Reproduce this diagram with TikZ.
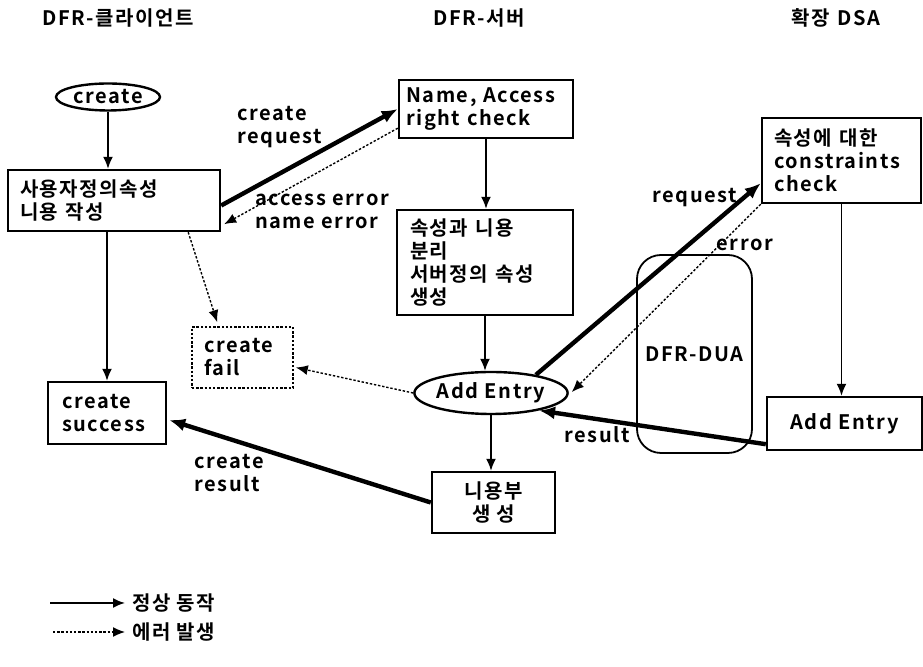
\documentclass[tikz,border=0pt]{standalone}
\usepackage{fontspec}
\setmainfont{Noto Sans CJK KR Bold}[LetterSpace=8]
\usetikzlibrary{shapes.geometric,calc,arrows.meta}

\begin{document}
\begin{tikzpicture}[x=0.5pt,y=-0.5pt,
    every node/.style={font=\fontsize{10}{11.5}\selectfont},
    box/.style={draw,line width=1.2pt,align=left,inner ysep=0pt},
    oval/.style={draw,ellipse,line width=1.2pt,inner sep=0pt},
    flow/.style={-{Latex[length=6pt,width=5pt]},line width=0.9pt},
    bigflow/.style={-{Latex[length=8pt,width=6.5pt]},line width=2.2pt},
    errflow/.style={-{Latex[length=6pt,width=5pt]},line width=0.7pt,dash pattern=on 1.2pt off 0.9pt}]

    \useasboundingbox (0,0) rectangle (923,667);

    % Define the column titles
    \node (tClient) at (118,18) {DFR-클라이언트};
    \node (tServer) at (479,18) {DFR-서버};
    \node (tDSA) at (836,18) {확장\hspace{4pt}DSA};

    % client side
    \node (create) [oval,minimum width=52pt,minimum height=13.5pt] at (108,97) {create};
    \node (user) [box,text width=94pt,inner xsep=6pt,minimum height=30.5pt] at (114,200.5) {사용자정의속성\\니용 작성};
    \node (fail) [box,dash pattern=on 1.2pt off 0.9pt,line width=0.8pt,text width=38.5pt,inner xsep=6pt,minimum height=30.5pt] at (242.5,357.5) {create\\fail};
    \node (success) [box,text width=45pt,inner xsep=7pt,minimum height=31pt] at (107,413) {create\\success};

    % server side
    \node (name) [box,text width=80pt,inner xsep=3.5pt,minimum height=29pt] at (486,109) {Name,~Access\\right check};
    \node (split) [box,text width=75pt,inner xsep=6.5pt,minimum height=52.5pt] at (485,262.5) {속성과 니용\\분리\\서버정의 속성\\생성};
    \node (addE) [oval,minimum width=74.5pt,minimum height=21pt] at (491,393) {Add Entry};
    \node (gen) [box,align=center,minimum width=61.5pt,minimum height=30.5pt] at (493.5,502.5) {니용부\\생 성};

    % DSA side
    \node (dua) [draw,rounded corners=12pt,line width=0.9pt,minimum width=57.5pt,minimum height=99pt] at (694.5,354) {DFR-DUA};
    \node (cons) [box,text width=67.5pt,inner xsep=6pt,minimum height=42.5pt] at (841.5,160.5) {속성에 대한\\constraints\\check};
    \node (addR) [box,align=center,minimum width=77.5pt,minimum height=26.5pt] at (844.5,423.5) {Add Entry};

    % normal flow
    \draw[flow] (create.south) -- (create.south |- user.north);
    \draw[flow] (success.north |- user.south) -- (success.north);
    \draw[bigflow] ($(user.east)+(0,5)$) -- (name.west);
    \draw[flow] (name.south) -- (name.south |- split.north);
    \draw[flow] (split.south) -- (split.south |- addE.north);
    \draw[flow] (addE.south) -- (addE.south |- gen.north);
    \draw[bigflow] (gen.west) -- ($(success.east)+(2,7)$);
    \draw[bigflow] (addE.22) -- ($(cons.south west)+(0,-21)$);
    \draw[flow] (cons.south) -- (cons.south |- addR.north);
    \draw[bigflow] ($(addR.south west)+(0,-7)$) -- (addE.-20);

    % error flow
    \draw[errflow] ($(name.south west)+(0,-11)$) -- ($(user.south east)+(3,-8)$);
    \draw[errflow] ($(user.south east)+(-33,0)$) -- ($(fail.north west)+(26,-4)$);
    \draw[errflow] (addE.west) -- ($(fail.east)+(2,10)$);
    \draw[errflow] (cons.south west) -- ($(addE.east)+(3,-1)$);

    % labels
    \node (lReq) [align=left] at (280,127) {create\\request};
    \node (lErr) [align=left] at (322,211) {access error\\name error};
    \node (lRes) [align=left] at (229,473) {create\\result};
    \node (lDreq) at (695,198) {request};
    \node (lDerr) at (745,245) {error};
    \node (lDres) at (597,435) {result};

    % legend
    \coordinate (lgOk) at (50,603);
    \coordinate (lgBad) at (53,632);
    \node (lgOkT) [anchor=west] at (125,603) {정상 동작};
    \node (lgBadT) [anchor=west] at (125,632) {에러 발생};
    \draw[flow] (lgOk) -- (lgOkT.west);
    \draw[errflow] (lgBad) -- (lgBadT.west);

\end{tikzpicture}
\end{document}
